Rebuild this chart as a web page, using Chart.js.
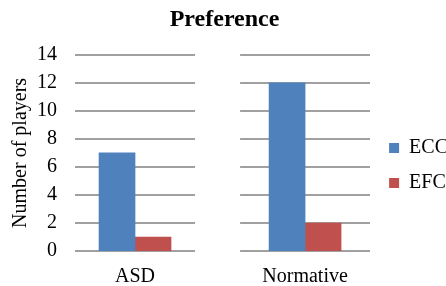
<!DOCTYPE html>
<html lang="en">
<head>
    <meta charset="UTF-8">
    <title>Preference</title>
    <style>
        html, body { margin: 0; padding: 0; background: #fff; }
        #wrap { width: 446px; height: 286px; }
    </style>
</head>
<body>

<script src="https://cdn.jsdelivr.net/npm/chart.js"></script>

<div id="wrap"><canvas id="mycanvas"></canvas></div>

<script>
    // data
    const categories = ["ASD", "Normative"];
    const eccValues = [7, 12];
    const efcValues = [1, 2];
    const seriesNames = ["ECC", "EFC"];
    const yTicks = [0, 2, 4, 6, 8, 10, 12, 14];

    const serif = "'Liberation Serif', 'Times New Roman', serif";

    // gridlines in the original are broken between the two groups
    const gridPieces = [[-0.353, 0.353], [0.618, 1.382]];

    const brokenGrid = {
        id: "brokenGrid",
        beforeDatasetsDraw(chart) {
            const ctx = chart.ctx;
            const xs = chart.scales.x;
            const ys = chart.scales.y;
            ctx.save();
            ctx.strokeStyle = "#a0a0a0";
            ctx.lineWidth = 2;
            yTicks.forEach(v => {
                const y = Math.round(ys.getPixelForValue(v));
                gridPieces.forEach(p => {
                    ctx.beginPath();
                    ctx.moveTo(xs.getPixelForValue(p[0]), y);
                    ctx.lineTo(xs.getPixelForValue(p[1]), y);
                    ctx.stroke();
                });
            });
            ctx.restore();
        }
    };

    const toPoints = vals => categories.map((c, i) => ({x: i, y: vals[i]}));

    new Chart(document.getElementById("mycanvas"), {
        type: "bar",
        data: {
            datasets: [
                {label: seriesNames[0], data: toPoints(eccValues), backgroundColor: "#4f81bd", barThickness: 36},
                {label: seriesNames[1], data: toPoints(efcValues), backgroundColor: "#c0504d", barThickness: 36}
            ]
        },
        options: {
            responsive: true,
            maintainAspectRatio: false,
            animation: false,
            layout: {padding: {left: 5, right: -12, top: 0, bottom: -17}},
            plugins: {
                title: {
                    display: true,
                    fullSize: false,
                    text: "Preference",
                    color: "#000",
                    font: {family: serif, size: 24, weight: "bold"},
                    padding: {top: 5, bottom: 21}
                },
                legend: {
                    position: "right",
                    // empty title only pushes the items down a bit
                    title: {display: true, text: "", font: {size: 10, lineHeight: 1}, padding: {top: 18, bottom: 0}},
                    labels: {
                        color: "#000",
                        font: {family: serif, size: 20},
                        boxWidth: 10,
                        boxHeight: 10,
                        padding: 15
                    }
                },
                tooltip: {enabled: false}
            },
            scales: {
                x: {
                    type: "linear",
                    offset: false,
                    min: -0.353,
                    max: 1.406,
                    grid: {display: false, drawTicks: false, offset: false},
                    border: {display: false},
                    afterBuildTicks: s => { s.ticks = categories.map((c, i) => ({value: i})); },
                    ticks: {
                        autoSkip: false,
                        maxRotation: 0,
                        color: "#000",
                        font: {family: serif, size: 20, lineHeight: 1},
                        padding: 16,
                        callback: v => categories[v]
                    }
                },
                y: {
                    min: 0,
                    max: 14,
                    afterBuildTicks: s => { s.ticks = yTicks.map(v => ({value: v})); },
                    grid: {display: false, drawTicks: false},
                    border: {display: false},
                    ticks: {
                        autoSkip: false,
                        color: "#000",
                        font: {family: serif, size: 20},
                        padding: 18
                    },
                    title: {
                        display: true,
                        text: "Number of players",
                        color: "#000",
                        font: {family: serif, size: 20},
                        padding: {top: 4, bottom: -14}
                    }
                }
            }
        },
        plugins: [brokenGrid]
    });
</script>

</body>
</html>
